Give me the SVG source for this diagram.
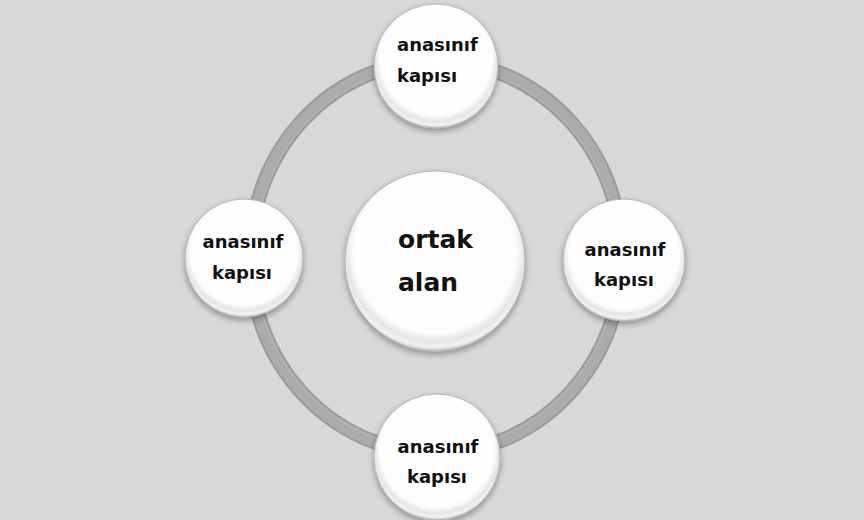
<svg xmlns="http://www.w3.org/2000/svg" width="864" height="520" viewBox="0 0 864 520">
<defs>
<radialGradient id="g" cx="50%" cy="45%" r="55%">
<stop offset="0" stop-color="#ffffff"/>
<stop offset="0.82" stop-color="#fdfdfd"/>
<stop offset="0.9" stop-color="#e6e6e6"/>
<stop offset="0.96" stop-color="#f2f2f2"/>
<stop offset="1" stop-color="#c4c4c4"/>
</radialGradient>
<filter id="sh" x="-20%" y="-20%" width="140%" height="150%">
<feGaussianBlur in="SourceAlpha" stdDeviation="3"/>
<feOffset dx="0" dy="3" result="b"/>
<feComponentTransfer><feFuncA type="linear" slope="0.35"/></feComponentTransfer>
<feMerge><feMergeNode/><feMergeNode in="SourceGraphic"/></feMerge>
</filter>
</defs>
<style>
.n{fill:url(#g);stroke:#b5b5b5;stroke-width:1;filter:url(#sh)}
.t{font-family:"DejaVu Sans",sans-serif;font-weight:bold;font-size:18px;fill:#111}
.c{text-anchor:middle}
.big{font-size:25px}
</style>
<rect width="864" height="520" fill="#d8d8d8"/>
<g id="connectors">
<ellipse cx="436" cy="257" rx="186" ry="196" fill="none" stroke="#9c9c9c" stroke-width="15"/>
<ellipse cx="436" cy="257" rx="186" ry="196" fill="none" stroke="#ababab" stroke-width="11"/>
<ellipse cx="436" cy="257" rx="182" ry="192" fill="none" stroke="#b8b8b8" stroke-width="1"/>
</g>
<g id="center">
<circle class="n" cx="435" cy="261" r="90"/>
<text class="t big" x="398" y="248">ortak</text>
<text class="t big" x="398" y="291">alan</text>
</g>
<g id="top">
<circle class="n" cx="436" cy="66" r="62"/>
<text class="t" x="397" y="51">anasınıf</text>
<text class="t" x="397" y="82">kapısı</text>
</g>
<g id="left">
<circle class="n" cx="244" cy="258" r="59"/>
<text class="t c" x="243" y="248">anasınıf</text>
<text class="t c" x="242" y="279">kapısı</text>
</g>
<g id="right">
<circle class="n" cx="624" cy="260" r="61"/>
<text class="t c" x="625" y="256">anasınıf</text>
<text class="t c" x="624" y="286">kapısı</text>
</g>
<g id="bottom">
<circle class="n" cx="437" cy="457" r="63"/>
<text class="t c" x="438" y="453">anasınıf</text>
<text class="t c" x="437" y="483">kapısı</text>
</g>
</svg>
